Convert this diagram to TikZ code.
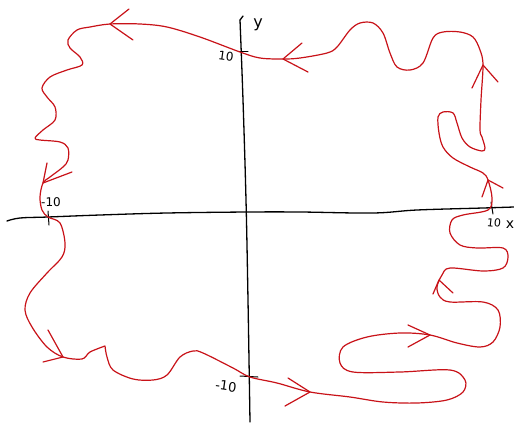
\documentclass[tikz,border=0pt]{standalone}
\usepackage{fontspec}
\setmainfont{DejaVu Sans}
\definecolor{pen}{RGB}{200,18,24}
\begin{document}
\begin{tikzpicture}[x=1pt,y=-1pt,
  axis/.style={line width=1.3pt,black,line cap=round,line join=round},
  curve/.style={line width=1.2pt,pen,line cap=round,line join=round},
  lbl/.style={inner sep=0pt}]
\useasboundingbox (0,0) rectangle (514,423);
% axes
\draw[axis] plot[smooth,tension=0.6] coordinates {(7,221) (20,218) (48,217) (100,215) (167,213) (248,212) (300,212) (373,213) (417,210) (483,208) (514,207)};
\draw[axis] plot[smooth,tension=0.6] coordinates {(240,20) (243,100) (246,200) (248,300) (250,422)};
\draw[axis] (240,20) -- (243,16);
% ticks
\draw[axis,line width=1pt] (238,51) -- (248,51);
\draw[axis,line width=1pt] (48,211) -- (49,225);
\draw[axis,line width=1pt] (240,376) -- (258,377);
\draw[axis,line width=1pt] (491,202) -- (493,214);
% labels
\node[lbl,font=\fontsize{16}{16}\selectfont] (ly) at (258,25) {y};
\node[lbl,font=\fontsize{14}{14}\selectfont] (lx) at (510,225) {x};
\node[lbl,font=\fontsize{12}{12}\selectfont,rotate=-8] (l10t) at (226,56) {10};
\node[lbl,font=\fontsize{12}{12}\selectfont] (lm10l) at (51,202) {-10};
\node[lbl,font=\fontsize{13}{13}\selectfont,rotate=-8] (lm10b) at (226,386) {-10};
\node[lbl,font=\fontsize{11}{11}\selectfont,rotate=-6] (l10r) at (494,223) {10};
% red curve
\draw[curve] plot[smooth,tension=0.55] coordinates {
(105,346) (107,357) (113,370) (133,379) (153,380) (167,375) (180,357) (193,351) (203,353) (233,368) (250,377)
(277,383) (310,392) (350,397) (383,402) (417,403) (447,400) (463,392) (465,380) (450,370) (400,372) (353,372)
(340,363) (343,347) (367,337) (400,333) (430,335) (457,343) (480,347) (493,342) (500,327) (498,310) (483,302)
(450,302) (440,297) (437,287) (442,275) (450,268) (483,271) (503,268) (508,257) (503,248) (477,248) (460,245)
(450,233) (452,220) (463,215) (488,210) (492,198) (488,180) (483,173) (470,167) (453,158) (443,147) (439,133)
(438,117) (443,112) (453,113) (457,123) (462,138) (470,147) (482,151) (485,148) (482,137) (480,130) (481,100) (483,65)
(480,50) (473,37) (460,32) (443,32) (433,38) (423,63) (410,70) (397,67) (390,53) (383,33) (373,23) (360,23)
(350,30) (337,47) (327,53) (300,58) (283,59) (260,58) (240,52) (200,37) (167,27) (140,24) (110,24) (90,27)
(77,30) (68,40) (70,48) (80,57) (82,65) (67,70) (50,77) (42,88) (47,97) (55,107) (55,120) (43,130) (35,138)
(40,140) (60,142) (68,148) (68,160) (63,167) (50,177) (43,183) (40,197) (42,210) (48,217) (60,223) (65,243)
(62,257) (47,273) (30,293) (25,310) (32,327) (47,347) (63,357) (82,359) (90,352) (105,346)};
% arrowheads (open V)
\draw[curve] (129,9) -- (110,24) -- (133,40);
\draw[curve] (302,43) -- (283,59) -- (308,72);
\draw[curve] (47,163) -- (43,183) -- (72,172);
\draw[curve] (48,330) -- (63,357) -- (43,362);
\draw[curve] (288,378) -- (310,392) -- (285,406);
\draw[curve] (408,325) -- (430,335) -- (408,347);
\draw[curve] (433,294) -- (439,280) -- (453,293);
\draw[curve] (482,197) -- (488,180) -- (503,188);
\draw[curve] (472,88) -- (483,65) -- (498,82);
\end{tikzpicture}
\end{document}
